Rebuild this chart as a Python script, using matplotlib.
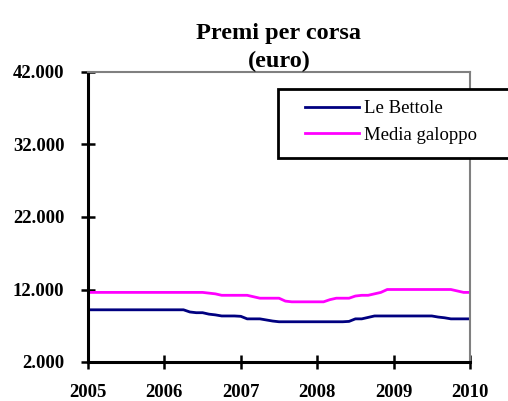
import matplotlib.pyplot as plt
import numpy as np
from matplotlib.ticker import FuncFormatter
from matplotlib.patches import Rectangle

# monthly values, Jan 2005 .. Jan 2010
le_bettole = [9200] * 16 + [8900, 8800, 8800, 8600, 8500, 8350, 8350, 8350, 8300,
              7950, 7950, 7950, 7800, 7650, 7550] + [7550] * 10 + \
             [7600, 7950, 7950, 8150, 8350] + [8350] * 9 + [8200, 8100, 7950, 7950, 7950, 7950]
media_galoppo = [11600] * 19 + [11500, 11400, 11200, 11200, 11200, 11200, 11200, 11000,
                 10800, 10800, 10800, 10800, 10400] + [10300] * 6 + \
                [10600, 10800, 10800, 10800, 11100, 11200, 11200, 11400, 11600, 12000] + \
                [12000] * 10 + [11800, 11600, 11600]
anni = [2005, 2006, 2007, 2008, 2009, 2010]
y_ticks = [2000, 12000, 22000, 32000, 42000]

x = 2005 + np.arange(len(le_bettole)) / 12.0

plt.rcParams['font.family'] = ['Liberation Serif', 'DejaVu Serif']

W, H = 508, 401
fig = plt.figure(figsize=(W / 100, H / 100), dpi=100)
ax = fig.add_axes([88 / W, 39 / H, 382 / W, 290 / H])

l1, = ax.plot(x, le_bettole, color='#000080', lw=2.0, label='Le Bettole')
l2, = ax.plot(x, media_galoppo, color='#FF00FF', lw=2.0, label='Media galoppo')

ax.set_xlim(2005, 2010)
ax.set_ylim(2000, 42000)
ax.set_xticks(anni)
ax.set_yticks(y_ticks)
ax.yaxis.set_major_formatter(FuncFormatter(lambda v, p: f"{int(v):,}".replace(',', '.')))

ax.tick_params(axis='both', direction='inout', length=10, width=1.8, color='black')
ax.tick_params(axis='x', pad=11, labelsize=13.5)
ax.tick_params(axis='y', pad=12, labelsize=13.5)
for lab in ax.get_xticklabels() + ax.get_yticklabels():
    lab.set_fontweight('bold')

for s in ['left', 'bottom']:
    ax.spines[s].set_color('black')
    ax.spines[s].set_linewidth(2.2)
for s in ['top', 'right']:
    ax.spines[s].set_color('#808080')
    ax.spines[s].set_linewidth(1.5)

ax.set_title('Premi per corsa\n(euro)', fontsize=17.5, fontweight='bold', pad=0, linespacing=1.45)

# legend box (runs off the right edge like the original)
fig.patches.append(Rectangle((278 / W, (H - 158) / H), 240 / W, 69 / H,
                             transform=fig.transFigure, facecolor='white',
                             edgecolor='black', linewidth=2, zorder=5))
leg = fig.legend(handles=[l1, l2], loc='upper left',
                 bbox_to_anchor=(305 / W, (H - 100) / H),
                 bbox_transform=fig.transFigure, frameon=False,
                 fontsize=13.5, handlelength=2.9, handletextpad=0.27,
                 borderpad=0, labelspacing=0.5, borderaxespad=0)
leg.set_zorder(6)

fig.savefig('out.png', dpi=100)
